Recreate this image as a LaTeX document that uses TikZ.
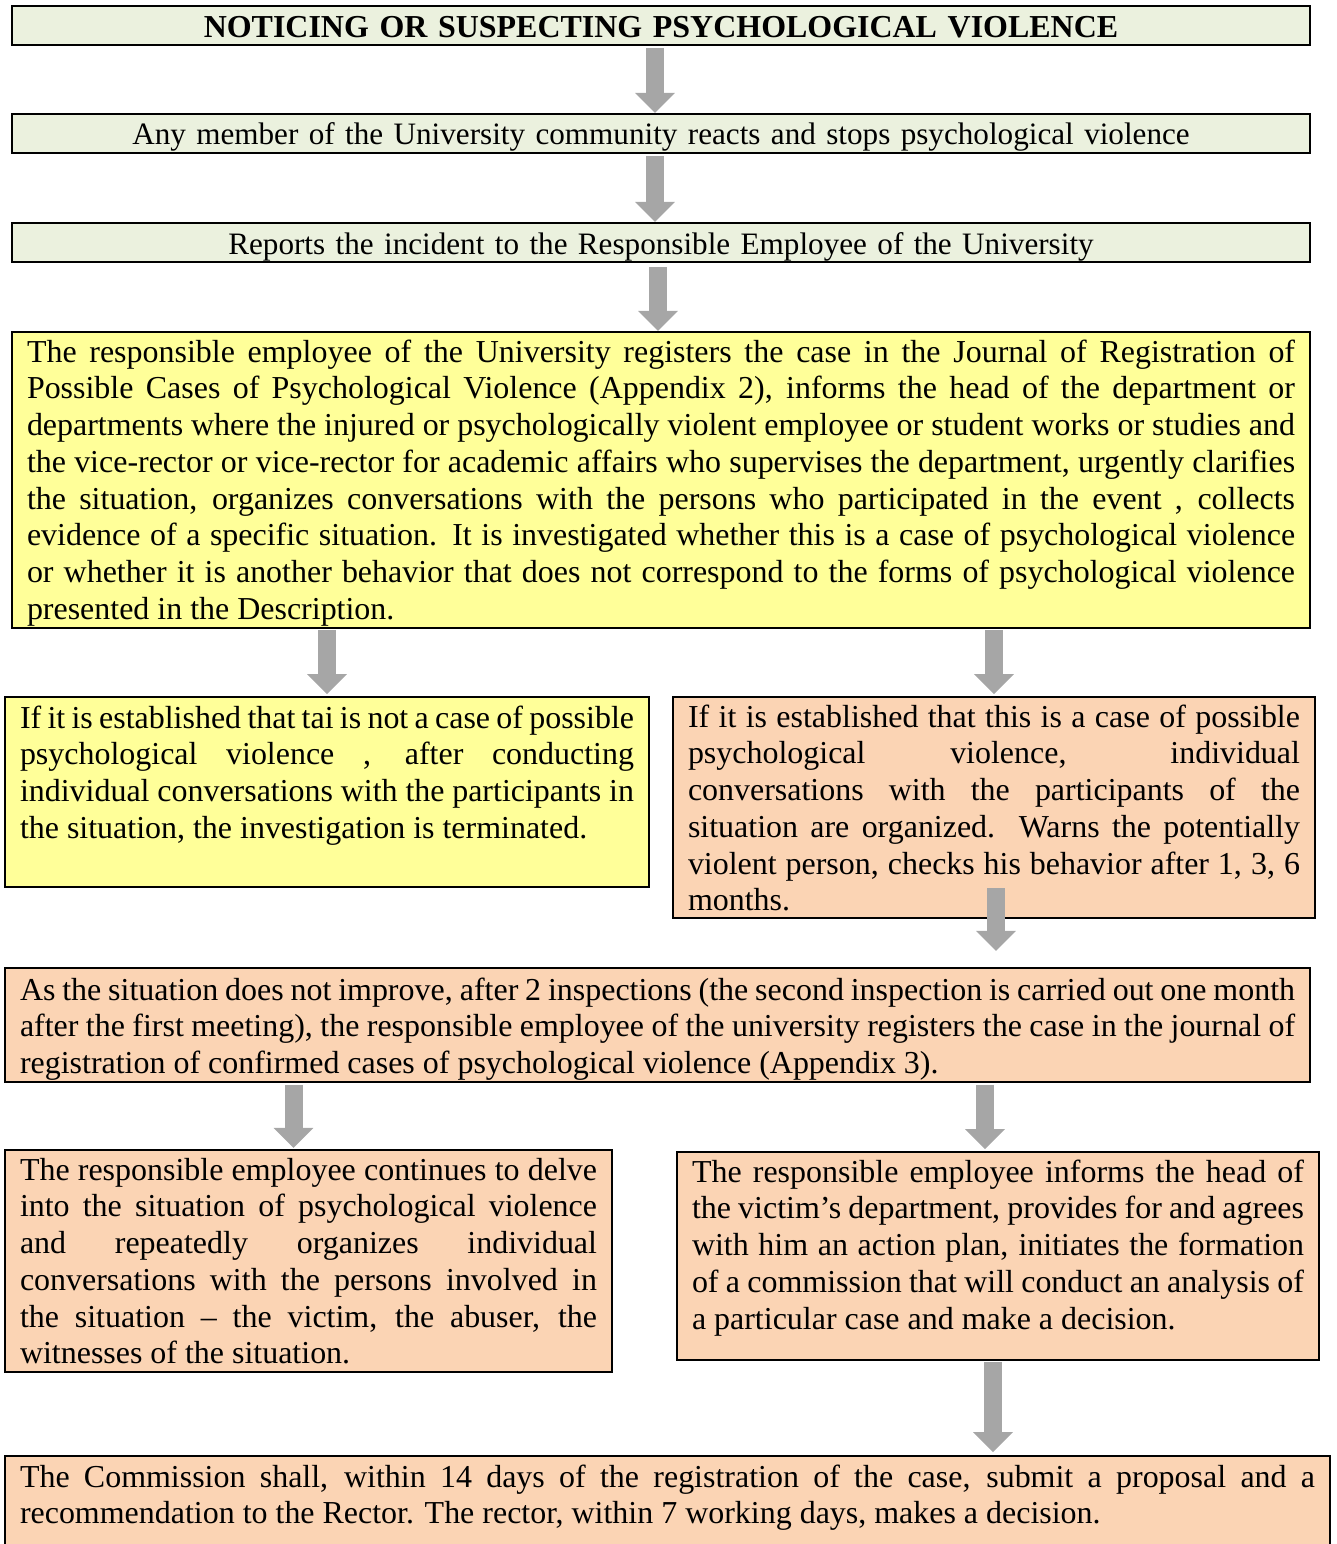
\documentclass[tikz,border=0pt]{standalone}
\usepackage{fontspec}
\setmainfont{Liberation Serif}
\usetikzlibrary{arrows.meta,calc}
\newlength\px
\setlength\px{0.3755pt}
\tolerance=10000
\hyphenpenalty=10000
\definecolor{greenfill}{HTML}{EBF1DE}
\definecolor{yellowfill}{HTML}{FFFF99}
\definecolor{peachfill}{HTML}{FBD4B4}
\definecolor{arrowgray}{HTML}{A6A6A6}

\begin{document}
\begin{tikzpicture}[x=0.3755pt,y=-0.3755pt,
  box/.style={draw=black,line width=2.5\px,anchor=north west,outer sep=0pt,
    inner xsep=15\px,inner ysep=0pt,align=justify,
    font=\fontsize{12pt}{13.8pt}\selectfont},
  headbox/.style={box,fill=greenfill,align=center,text width=1268\px,
    font=\fontsize{11.7pt}{13.8pt}\selectfont},
  fatarrow/.style={draw=arrowgray,line width=18\px,
    -{Triangle[width=15pt,length=7.5pt,line width=0pt]}}]
\useasboundingbox (0,0) rectangle (1337,1544);
\clip (0,0) rectangle (1337,1544);

\node[headbox,font=\fontsize{12pt}{13.8pt}\selectfont,text height=32\px,text depth=7\px]
  (n1) at (12,6) {\textbf{NOTICING OR SUSPECTING PSYCHOLOGICAL VIOLENCE}};
\node[headbox,text height=31\px,text depth=8\px]
  (n2) at (12,114) {Any member of the University community reacts and stops psychological violence};
\node[headbox,text height=31\px,text depth=8\px]
  (n3) at (12,223) {Reports the incident to the Responsible Employee of the University};

\node[box,fill=yellowfill,text width=1268\px,text height=30\px,text depth=266\px] (n4) at (12,332)
  {The responsible employee of the University registers the case in the Journal of Registration of\linebreak
   Possible Cases of Psychological Violence (Appendix 2), informs the head of the department or\linebreak
   departments where the injured or psychologically violent employee or student works or studies and\linebreak
   the vice-rector or vice-rector for academic affairs who supervises the department, urgently clarifies\linebreak
   the situation, organizes conversations with the persons who participated in the event , collects\linebreak
   evidence of a specific situation. It is investigated whether this is a case of psychological violence\linebreak
   or whether it is another behavior that does not correspond to the forms of psychological violence\linebreak
   presented in the Description.};

\node[box,fill=yellowfill,text width=614\px,text height=31\px,text depth=159\px] (n5a) at (5,697)
  {If it is established that tai is not a case of possible\linebreak
   psychological violence , after conducting\linebreak
   individual conversations with the participants in\linebreak
   the situation, the investigation is terminated.};
\node[box,fill=peachfill,text width=612\px,text height=30\px,text depth=191\px] (n5b) at (673,697)
  {If it is established that this is a case of possible\linebreak
   psychological violence, individual\linebreak
   conversations with the participants of the\linebreak
   situation are organized. Warns the potentially\linebreak
   violent person, checks his behavior after 1, 3, 6\linebreak
   months.};

\node[box,fill=peachfill,text width=1275\px,text height=32\px,text depth=82\px] (n6) at (5,968)
  {As the situation does not improve, after 2 inspections (the second inspection is carried out one month\linebreak
   after the first meeting), the responsible employee of the university registers the case in the journal of\linebreak
   registration of confirmed cases of psychological violence (Appendix 3).};

\node[box,fill=peachfill,text width=577\px,text height=30\px,text depth=192\px] (n7a) at (5,1150)
  {The responsible employee continues to delve\linebreak
   into the situation of psychological violence\linebreak
   and repeatedly organizes individual\linebreak
   conversations with the persons involved in\linebreak
   the situation -- the victim, the abuser, the\linebreak
   witnesses of the situation.};
\node[box,fill=peachfill,text width=612\px,text height=30\px,text depth=178\px] (n7b) at (677,1152)
  {The responsible employee informs the head of\linebreak
   the victim's department, provides for and agrees\linebreak
   with him an action plan, initiates the formation\linebreak
   of a commission that will conduct an analysis of\linebreak
   a particular case and make a decision.};

\node[box,fill=peachfill,text width=1295\px,text height=31\px,text depth=77\px] (n8) at (5,1456)
  {The Commission shall, within 14 days of the registration of the case, submit a proposal and a\linebreak
   recommendation to the Rector. The rector, within 7 working days, makes a decision.};

% arrows
\draw[fatarrow,shorten <=1.1pt,shorten >=0.4pt] ($(n1.south)+(-6,0)$) -- ($(n2.north)+(-6,0)$);
\draw[fatarrow,shorten <=1.1pt,shorten >=0.4pt] ($(n2.south)+(-6,0)$) -- ($(n3.north)+(-6,0)$);
\draw[fatarrow,shorten <=1.9pt,shorten >=0.4pt] ($(n3.south)+(-3,0)$) -- ($(n4.north)+(-3,0)$);
\draw[fatarrow,shorten <=0.8pt,shorten >=1.1pt] (n4.south -| n5a.north) -- (n5a.north);
\draw[fatarrow,shorten <=0.8pt,shorten >=1.1pt] (n4.south -| n5b.north) -- (n5b.north);
\draw[fatarrow,shorten >=6.4pt] ($(n5b.south)+(2,-30)$) -- ($(n6.north -| n5b.south)+(2,0)$);
\draw[fatarrow,shorten <=1.1pt,shorten >=0.8pt] ($(n6.south -| n7a.north)+(-15,0)$) -- ($(n7a.north)+(-15,0)$);
\draw[fatarrow,shorten <=1.1pt,shorten >=1.1pt] ($(n6.south -| n7b.north)+(-13,0)$) -- ($(n7b.north)+(-13,0)$);
\draw[fatarrow,shorten <=0.8pt,shorten >=1.5pt] ($(n7b.south)+(-5,0)$) -- ($(n8.north -| n7b.south)+(-5,0)$);
\end{tikzpicture}
\end{document}
